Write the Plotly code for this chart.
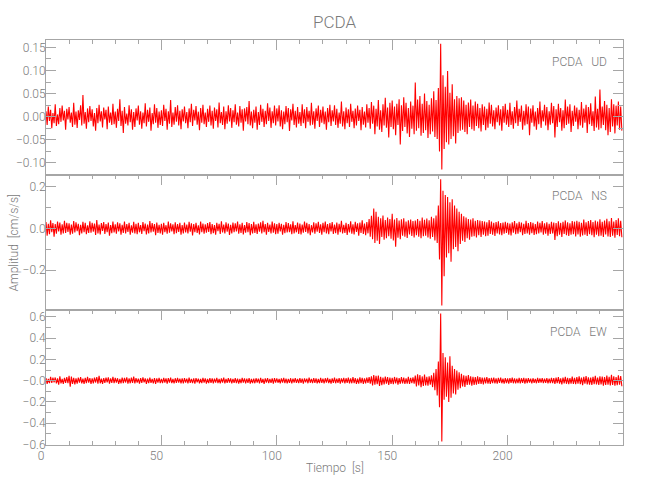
import numpy as np
import plotly.graph_objects as go
from plotly.subplots import make_subplots

# ---------------- data (values in thousandths of cm/s/s), sampled every 0.5 s ----------------
DT = 0.5
ud_milli = [
    12, -18, 22, -9, 15, -25, 8, -14, 27, -20, 5, -16, 19, -11, 24, -8, 13, -28, 17, -6,
    21, -13, 9, -22, 30, -17, 11, -24, 14, -7, 25, -19, 47, -15, 10, -26, 18, -12, 23, -9,
    16, -21, 8, -30, 19, -14, 26, -10, 12, -23, 20, -6, 15, -27, 22, -13, 9, -18, 28, -16,
    11, -24, 17, -9, 38, -20, 13, -35, 21, -15, 7, -19, 25, -12, 16, -28, 10, -22, 18, -8,
    24, -17, 12, -26, 9, -14, 29, -21, 15, -11, 20, -30, 8, -16, 27, -13, 19, -24, 11, -18,
    14, -20, 26, -9, 17, -28, 12, -15, 36, -22, 9, -17, 21, -11, 25, -19, 13, -27, 16, -10,
    22, -14, 10, -25, 18, -12, 28, -20, 15, -8, 23, -17, 11, -29, 19, -13, 26, -16, 9, -22,
    17, -11, 24, -19, 13, -26, 20, -9, 16, -23, 31, -14, 10, -18, 22, -27, 12, -15, 25, -10,
    19, -24, 14, -12, 27, -17, 9, -21, 23, -13, 16, -30, 18, -10, 21, -16, 34, -19, 11, -25,
    15, -13, 22, -28, 10, -18, 26, -11, 17, -22, 13, -16, 29, -9, 20, -24, 12, -14, 24, -19,
    18, -10, 25, -21, 14, -27, 11, -16, 23, -12, 19, -31, 16, -8, 28, -18, 13, -23, 21, -15,
    10, -20, 27, -14, 16, -25, 21, -11, 13, -19, 30, -17, 12, -26, 18, -9, 24, -22, 15, -13,
    22, -16, 11, -28, 19, -12, 26, -20, 14, -10, 25, -18, 17, -24, 9, -15, 33, -21, 12, -27,
    20, -14, 16, -22, 28, -11, 13, -25, 18, -19, 24, -9, 15, -29, 21, -17, 11, -23, 27, -13,
    19, -26, 32, -15, 24, -38, 17, -21, 36, -28, 14, -33, 27, -19, 41, -24, 20, -45, 30, -22,
    35, -27, 22, -40, 28, -18, 38, -60, 25, -31, 42, -22, 30, -36, 19, -44, 33, -26, 24, -38,
    74, -30, 37, -25, 45, -41, 28, -35, 50, -29, 34, -46, 26, -38, 40, -32, 55, -44, 36, -48,
    62, -75, 158, -114, 90, -70, 65, -55, 99, -60, 52, -48, 70, -42, 38, -58, 45, -35, 40, -30,
    42, -28, 35, -33, 26, -38, 31, -22, 37, -27, 24, -30, 33, -20, 28, -25, 19, -32, 27, -18,
    22, -29, 17, -24, 31, -15, 26, -21, 14, -27, 20, -12, 25, -19, 16, -30, 23, -13, 28, -17,
    15, -22, 30, -18, 12, -26, 21, -14, 35, -20, 17, -11, 24, -28, 13, -19, 27, -16, 22, -40,
    18, -13, 25, -21, 11, -28, 19, -16, 33, -24, 14, -10, 26, -19, 21, -29, 12, -17, 30, -14,
    23, -45, 16, -22, 28, -12, 19, -30, 14, -25, 37, -18, 22, -15, 27, -33, 13, -20, 24, -11,
    20, -27, 15, -19, 32, -24, 18, -13, 26, -35, 21, -16, 29, -20, 12, -31, 44, -23, 17, -28,
    59, -25, 22, -18, 34, -29, 26, -40, 19, -33, 38, -21, 27, -36, 24, -19, 33, -28, 22, -30,
]
ns_milli = [
    30, -35, 22, -28, 38, -18, 25, -40, 20, -26, 33, -15, 28, -31, 19, -24, 36, -22, 27, -17,
    24, -30, 18, -26, 35, -20, 29, -14, 22, -33, 17, -25, 31, -19, 26, -28, 15, -22, 34, -21,
    27, -16, 23, -32, 40, -24, 18, -29, 25, -13, 30, -27, 21, -18, 28, -35, 16, -23, 32, -20,
    19, -26, 29, -15, 24, -31, 17, -22, 33, -25, 20, -17, 27, -30, 14, -21, 31, -24, 22, -28,
    26, -19, 16, -27, 30, -14, 23, -29, 18, -24, 35, -20, 25, -16, 21, -33, 28, -22, 17, -25,
    22, -30, 27, -18, 15, -26, 32, -21, 24, -15, 19, -28, 29, -23, 20, -17, 26, -31, 16, -24,
    28, -20, 18, -25, 31, -16, 24, -34, 21, -19, 27, -22, 15, -29, 33, -18, 23, -26, 19, -21,
    25, -17, 30, -28, 20, -23, 16, -30, 26, -14, 22, -27, 34, -20, 18, -24, 29, -16, 23, -32,
    17, -25, 28, -19, 24, -15, 32, -26, 19, -22, 27, -29, 16, -21, 30, -18, 25, -33, 20, -24,
    31, -22, 19, -27, 23, -16, 29, -24, 36, -19, 21, -30, 26, -17, 18, -25, 33, -21, 24, -28,
    20, -26, 27, -15, 22, -31, 17, -23, 30, -20, 25, -18, 19, -28, 34, -24, 16, -19, 28, -27,
    23, -29, 18, -21, 32, -17, 26, -25, 21, -33, 15, -20, 29, -26, 24, -16, 31, -22, 19, -30,
    27, -18, 33, -24, 20, -28, 25, -15, 30, -27, 18, -23, 28, -31, 22, -19, 36, -25, 17, -22,
    26, -32, 21, -20, 34, -26, 19, -29, 31, -17, 24, -35, 28, -22, 38, -27, 23, -33, 30, -24,
    45, -40, 60, -52, 95, -70, 80, -60, 55, -75, 48, -42, 62, -55, 40, -48, 52, -38, 45, -50,
    70, -58, 42, -88, 50, -45, 38, -52, 44, -36, 48, -40, 33, -46, 39, -30, 42, -37, 35, -44,
    38, -33, 45, -40, 36, -48, 52, -38, 41, -35, 47, -44, 39, -50, 55, -42, 48, -58, 62, -70,
    110, -150, 235, -370, 180, -230, 160, -140, 150, -120, 125, -160, 140, -100, 110, -90, 95, -110, 80, -75,
    70, -60, 58, -65, 52, -48, 45, -55, 42, -40, 48, -38, 36, -44, 40, -33, 38, -42, 35, -30,
    33, -38, 29, -35, 40, -27, 32, -31, 26, -36, 30, -24, 34, -29, 25, -33, 28, -26, 31, -22,
    27, -30, 23, -34, 29, -21, 35, -28, 24, -26, 31, -19, 28, -33, 22, -27, 36, -24, 25, -30,
    30, -23, 26, -32, 21, -28, 33, -25, 27, -20, 35, -30, 24, -26, 29, -35, 22, -27, 31, -24,
    28, -56, 25, -38, 34, -30, 26, -42, 31, -27, 38, -33, 29, -36, 24, -30, 35, -28, 32, -39,
    36, -29, 31, -40, 27, -34, 42, -31, 29, -37, 35, -28, 40, -33, 30, -43, 37, -30, 33, -38,
    44, -35, 31, -42, 38, -30, 46, -39, 34, -41, 50, -36, 33, -45, 40, -32, 48, -38, 36, -43,
]
ew_milli = [
    25, -30, 18, -22, 35, -20, 28, -15, 30, -26, 22, -38, 40, -25, 18, -30, 27, -20, 33, -24,
    45, -57, 38, -30, 26, -35, 22, -28, 30, -18, 34, -25, 20, -29, 27, -22, 36, -19, 24, -31,
    21, -26, 29, -17, 33, -28, 46, -24, 19, -30, 25, -21, 28, -16, 31, -27, 22, -20, 35, -23,
    27, -19, 23, -29, 18, -25, 30, -22, 26, -17, 32, -28, 21, -24, 29, -20, 38, -26, 24, -18,
    20, -27, 25, -21, 31, -16, 22, -30, 19, -23, 28, -20, 17, -26, 24, -29, 21, -18, 27, -22,
    18, -23, 26, -17, 21, -28, 24, -19, 29, -22, 16, -25, 23, -20, 27, -18, 20, -24, 22, -26,
    24, -18, 19, -25, 28, -21, 17, -23, 22, -27, 25, -16, 20, -24, 18, -22, 26, -19, 21, -28,
    17, -22, 25, -20, 21, -26, 19, -18, 27, -23, 16, -24, 22, -19, 28, -25, 18, -21, 24, -17,
    22, -26, 18, -20, 25, -23, 20, -27, 17, -22, 26, -18, 21, -25, 19, -20, 24, -28, 16, -23,
    19, -24, 23, -17, 20, -26, 27, -21, 18, -30, 22, -19, 25, -23, 17, -20, 21, -27, 24, -18,
    21, -19, 16, -24, 22, -18, 26, -22, 19, -25, 17, -21, 23, -26, 20, -17, 25, -20, 18, -23,
    24, -21, 19, -27, 22, -16, 20, -24, 28, -19, 17, -22, 25, -20, 21, -26, 18, -23, 26, -21,
    20, -25, 23, -18, 26, -22, 18, -27, 21, -20, 29, -24, 19, -21, 24, -28, 22, -17, 27, -25,
    23, -20, 28, -26, 21, -24, 33, -22, 25, -29, 20, -27, 31, -23, 26, -30, 22, -25, 29, -21,
    34, -28, 40, -45, 52, -38, 45, -33, 48, -50, 36, -42, 30, -35, 38, -27, 33, -40, 29, -31,
    27, -32, 35, -26, 30, -38, 24, -29, 33, -25, 28, -31, 22, -27, 36, -30, 26, -24, 32, -28,
    48, -55, 60, -45, 52, -62, 40, -50, 58, -44, 36, -48, 42, -38, 50, -60, 75, -90, 110, -140,
    180, -250, 630, -570, 260, -180, 220, -150, 170, -200, 230, -160, 140, -120, 110, -130, 95, -85, 80, -70,
    65, -55, 50, -58, 45, -40, 52, -38, 42, -46, 36, -40, 33, -38, 40, -31, 35, -30, 28, -34,
    30, -26, 33, -28, 24, -31, 27, -22, 30, -25, 22, -28, 26, -21, 29, -24, 20, -27, 25, -23,
    22, -27, 25, -20, 28, -24, 21, -26, 19, -22, 27, -25, 23, -20, 26, -28, 21, -23, 24, -19,
    20, -25, 23, -21, 18, -24, 26, -20, 22, -19, 25, -23, 19, -21, 24, -26, 20, -22, 27, -24,
    25, -30, 28, -24, 33, -27, 22, -35, 30, -26, 36, -29, 27, -32, 24, -28, 38, -31, 26, -33,
    35, -28, 40, -33, 30, -42, 36, -29, 44, -35, 31, -38, 28, -40, 37, -32, 45, -36, 30, -39,
    42, -35, 38, -46, 33, -40, 48, -37, 36, -44, 55, -39, 41, -47, 35, -42, 50, -38, 44, -52,
]

components = ["UD", "NS", "EW"]
station = "PCDA"
x_ticks = [0, 50, 100, 150, 200]
x_ticktext = ["0", "50", "100", "150", "200"]
ud_ticks = [-0.10, -0.05, 0.0, 0.05, 0.10, 0.15]
ud_ticktext = ["\u22120.10", "\u22120.05", "0.00", "0.05", "0.10", "0.15"]
ns_ticks = [-0.2, 0.0, 0.2]
ns_ticktext = ["\u22120.2", "0.0", "0.2"]
ew_ticks = [-0.6, -0.4, -0.2, 0.0, 0.2, 0.4, 0.6]
ew_ticktext = ["\u22120.6", "\u22120.4", "\u22120.2", "\u22120.0", "0.2", "0.4", "0.6"]

# ---------------- figure ----------------
series = [np.array(ud_milli) / 1000.0, np.array(ns_milli) / 1000.0, np.array(ew_milli) / 1000.0]
t = np.arange(len(ud_milli)) * DT

FONT = "Roboto, Liberation Sans, sans-serif"
TXT = "#7a7a7a"
LINE = "#a6a6a6"
FS = 12

fig = make_subplots(rows=3, cols=1, shared_xaxes=False, vertical_spacing=0)
for i, y in enumerate(series):
    fig.add_trace(go.Scatter(x=t, y=y, mode="lines",
                             line=dict(color="#ff0000", width=1.1),
                             hoverinfo="skip", showlegend=False), row=i + 1, col=1)

yranges = [[-0.126, 0.166], [-0.392, 0.256], [-0.604, 0.664]]
yticks = [(ud_ticks, ud_ticktext, 0.025), (ns_ticks, ns_ticktext, 0.1), (ew_ticks, ew_ticktext, 0.1)]

for i in range(3):
    r = i + 1
    last = (r == 3)
    fig.update_xaxes(row=r, col=1, range=[0, 250], showgrid=False, zeroline=False,
                     automargin=False,
                     showline=True, linecolor=LINE, linewidth=1,
                     mirror="ticks" if last else True,
                     side="bottom" if last else "top",
                     ticks="inside", ticklen=10, tickcolor=LINE, tickwidth=1,
                     tickvals=x_ticks, ticktext=x_ticktext,
                     showticklabels=last,
                     tickfont=dict(family=FONT, size=FS, color=TXT, weight=300),
                     ticklabelshift=-5,
                     minor=dict(ticks="inside", ticklen=4, dtick=10, tick0=0,
                                tickcolor=LINE, tickwidth=1, showgrid=False))
    tv, tt, mdt = yticks[i]
    fig.update_yaxes(row=r, col=1, range=yranges[i], showgrid=False, zeroline=False,
                     automargin=False,
                     showline=True, linecolor=LINE, linewidth=1, mirror="ticks",
                     ticks="inside", ticklen=10, tickcolor=LINE, tickwidth=1,
                     tickvals=tv, ticktext=tt, ticklabelstandoff=-3,
                     tickfont=dict(family=FONT, size=FS, color=TXT, weight=300),
                     minor=dict(ticks="inside", ticklen=5, dtick=mdt, tick0=0,
                                tickcolor=LINE, tickwidth=1, showgrid=False))

ann_y = [0.9464, 0.6148, 0.2798]
for comp, yy in zip(components, ann_y):
    fig.add_annotation(xref="paper", yref="paper", x=0.976, y=yy, xanchor="right", yanchor="middle",
                       text=station + "\u00a0\u00a0\u00a0" + comp, showarrow=False,
                       font=dict(family=FONT, size=FS, color=TXT, weight=300))

fig.add_annotation(xref="paper", yref="paper", x=0.5, y=-0.0568, xanchor="center", yanchor="middle",
                   text="Tiempo\u00a0\u00a0[s]", showarrow=False,
                   font=dict(family=FONT, size=FS, color=TXT, weight=300))
fig.add_annotation(xref="paper", yref="paper", x=-0.0555, y=0.5, xanchor="center", yanchor="middle",
                   text="Amplitud\u00a0\u00a0[cm/s/s]", textangle=-90, showarrow=False,
                   font=dict(family=FONT, size=FS, color=TXT, weight=300))

fig.update_layout(
    width=650, height=500,
    margin=dict(l=46, r=27, t=40, b=55, autoexpand=False),
    paper_bgcolor="white", plot_bgcolor="white",
    title=dict(text=station, x=0.5, xref="paper", xanchor="center",
               y=1 - 22 / 500, yanchor="middle",
               font=dict(family=FONT, size=17, color=TXT, weight=300)),
)

fig.write_html("out.html", config={"displayModeBar": False},
               post_script="document.body.style.margin='0';")
